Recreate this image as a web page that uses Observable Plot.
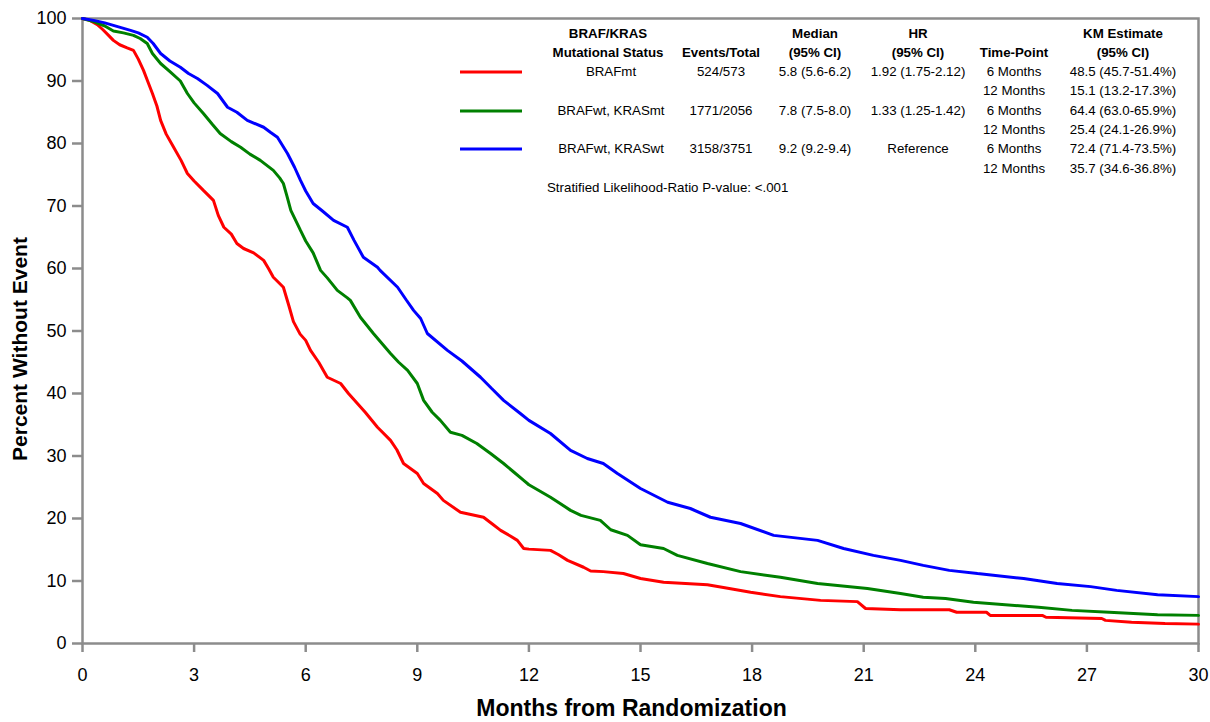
<!DOCTYPE html>
<html>
<head>
<meta charset="utf-8">
<script src="https://cdn.jsdelivr.net/npm/d3@7"></script>
<script src="https://cdn.jsdelivr.net/npm/@observablehq/plot@0.6"></script>
<style>
  html, body { margin: 0; padding: 0; background: #fff; }
  #wrap { position: relative; width: 1210px; height: 722px; font-family: "Liberation Sans", Arial, sans-serif; color: #000; }
  #wrap svg { position: absolute; left: 0; top: 0; }
  .cell { position: absolute; font-size: 13.3px; white-space: nowrap; transform: translate(-50%, -50%); line-height: 1; }
  .hdr { font-weight: bold; }
  .left { transform: translate(0, -50%); }
  .swatch { position: absolute; height: 3px; width: 62px; transform: translateY(-50%); }
</style>
</head>
<body>
<div id="wrap"></div>
<script>
// ---------- data ----------
const xTicks = [0, 3, 6, 9, 12, 15, 18, 21, 24, 27, 30];
const yTicks = [0, 10, 20, 30, 40, 50, 60, 70, 80, 90, 100];

const seriesNames = ["BRAFmt", "BRAFwt, KRASmt", "BRAFwt, KRASwt"];
const seriesColors = ["#ff0000", "#008000", "#0000ff"];

const redMonths = [0,0.2,0.4,0.55,0.7,0.83,1.0,1.2,1.37,1.5,1.64,1.75,1.88,2.0,2.1,2.25,2.45,2.65,2.82,3.0,3.25,3.52,3.65,3.8,4.0,4.15,4.33,4.6,4.87,5.0,5.13,5.4,5.55,5.67,5.85,6.0,6.13,6.35,6.58,6.94,7.15,7.39,7.6,7.93,8.28,8.45,8.63,9.0,9.17,9.54,9.7,10.16,10.78,11.0,11.24,11.5,11.69,11.86,12.0,12.58,12.8,13.04,13.47,13.66,14.0,14.54,15.0,15.62,16.8,17.23,17.96,18.76,19.84,20.83,21.05,21.99,23.3,23.5,24.3,24.4,25.8,25.9,27.4,27.5,28.2,29.1,30];
const redValues = [100,99.7,99,98.2,97.3,96.5,95.8,95.3,94.9,93.5,91.7,90,88,86,83.7,81.5,79.4,77.3,75.2,74,72.5,70.9,68.5,66.6,65.5,64,63.2,62.5,61.3,60,58.6,57,54,51.5,49.5,48.5,46.9,45,42.6,41.6,40,38.4,37,34.6,32.5,31,28.8,27.2,25.6,24,22.9,21,20.2,19.2,18.1,17.2,16.5,15.2,15.1,14.9,14.2,13.3,12.2,11.6,11.5,11.2,10.4,9.8,9.4,8.96,8.2,7.5,6.9,6.7,5.6,5.4,5.4,5.0,5.0,4.5,4.5,4.2,4.0,3.7,3.4,3.2,3.1];

const greenMonths = [0,0.3,0.6,0.83,1.1,1.37,1.55,1.74,1.88,2.1,2.35,2.63,2.82,3.0,3.25,3.5,3.7,4.0,4.25,4.5,4.78,5.13,5.3,5.4,5.5,5.6,5.86,6.0,6.2,6.4,6.58,6.85,7.12,7.2,7.47,7.82,8.28,8.5,8.74,9.0,9.17,9.4,9.62,9.89,10.2,10.6,10.97,11.32,11.6,11.86,12.0,12.58,13.12,13.4,13.92,14.2,14.65,15.0,15.62,15.99,16.8,17.69,18.76,19.76,21.1,21.99,22.6,23.2,23.95,25.7,26.6,27.6,28.9,30];
const greenValues = [100,99.5,98.8,98,97.7,97.3,96.8,96,94.4,92.8,91.5,90,88,86.5,84.8,83,81.6,80.3,79.4,78.3,77.3,75.7,74.5,73.6,71.5,69.3,66.1,64.4,62.5,59.7,58.5,56.5,55.3,54.9,52.2,49.6,46.4,45,43.7,41.6,38.9,37,35.7,33.8,33.3,32,30.4,28.8,27.4,26.1,25.4,23.4,21.3,20.5,19.7,18.2,17.3,15.8,15.2,14.1,12.8,11.5,10.6,9.6,8.8,8.0,7.4,7.2,6.6,5.8,5.3,5.0,4.6,4.5];

const blueMonths = [0,0.3,0.6,0.83,1.29,1.5,1.74,1.9,2.1,2.35,2.63,2.85,3.09,3.35,3.63,3.9,4.15,4.43,4.87,5.05,5.24,5.51,5.7,5.86,6.0,6.2,6.45,6.75,7.12,7.3,7.55,7.93,8.0,8.47,8.7,8.9,9.09,9.27,9.81,10.2,10.7,11.0,11.32,11.77,12.0,12.58,13.12,13.57,14.0,14.38,15.0,15.73,16.34,16.88,17.69,18.58,19.76,20.46,21.26,21.99,22.6,23.3,24.06,25.3,26.2,27.1,27.8,28.9,30];
const blueValues = [100,99.7,99.3,98.9,98.1,97.7,97,96,94.4,93.2,92.2,91.2,90.4,89.3,88,85.8,85,83.7,82.6,81.8,81,78.4,76.2,74.1,72.4,70.4,69.2,67.7,66.6,64.5,61.8,60.2,59.7,57,55,53.3,52,49.6,46.9,45.2,42.6,40.8,38.9,36.8,35.7,33.6,30.9,29.6,28.8,27.2,24.8,22.6,21.6,20.2,19.2,17.3,16.5,15.2,14.1,13.3,12.5,11.7,11.2,10.4,9.6,9.1,8.5,7.8,7.5];

// legend table texts
const headerLine1 = ["BRAF/KRAS", "", "Median", "HR", "", "KM Estimate"];
const headerLine2 = ["Mutational Status", "Events/Total", "(95% CI)", "(95% CI)", "Time-Point", "(95% CI)"];
const eventsTotal = ["524/573", "1771/2056", "3158/3751"];
const medians = ["5.8 (5.6-6.2)", "7.8 (7.5-8.0)", "9.2 (9.2-9.4)"];
const hazardRatios = ["1.92 (1.75-2.12)", "1.33 (1.25-1.42)", "Reference"];
const timePoints = ["6 Months", "12 Months"];
const kmEstimates = [
  ["48.5 (45.7-51.4%)", "15.1 (13.2-17.3%)"],
  ["64.4 (63.0-65.9%)", "25.4 (24.1-26.9%)"],
  ["72.4 (71.4-73.5%)", "35.7 (34.6-36.8%)"]
];
const pValueNote = "Stratified Likelihood-Ratio P-value: <.001";

// ---------- build tables ----------
const toRows = (ms, vs) => ms.map((m, i) => ({month: m, value: vs[i]}));
const curves = [toRows(redMonths, redValues), toRows(greenMonths, greenValues), toRows(blueMonths, blueValues)];

const axisGray = "#8c8c8c";

const chart = Plot.plot({
  width: 1210,
  height: 722,
  marginLeft: 82,
  marginRight: 12,
  marginTop: 18,
  marginBottom: 79,
  style: {fontFamily: '"Liberation Sans", Arial, sans-serif', color: "#000", background: "#fff"},
  x: {domain: [0, 30], label: null},
  y: {domain: [0, 100], label: null},
  marks: [
    Plot.axisX({ticks: xTicks, tickSize: 9, tickPadding: 16, stroke: axisGray, strokeWidth: 2.5, fontSize: 18, label: null}),
    Plot.axisY({ticks: yTicks, tickSize: 10, tickPadding: 6, stroke: axisGray, strokeWidth: 2.5, fontSize: 18, label: null}),
    Plot.frame({stroke: axisGray, strokeWidth: 2.5}),
    ...curves.map((rows, i) => Plot.line(rows, {x: "month", y: "value", stroke: seriesColors[i], strokeWidth: 3, strokeLinejoin: "miter"})),
    Plot.text(["Months from Randomization"], {text: d => d, frameAnchor: "bottom", dy: 72, dx: -9, fontSize: 23, fontWeight: "bold", fill: "#000"}),
    Plot.text(["Percent Without Event"], {text: d => d, frameAnchor: "left", textAnchor: "middle", dx: -62, dy: 18, rotate: -90, fontSize: 21, fontWeight: "bold", fill: "#000"})
  ]
});

const wrap = document.getElementById("wrap");
wrap.appendChild(chart);

// ---------- overlay legend table ----------
const colX = [608, 721, 815, 918, 1014, 1123];
const rowY0 = 72, rowStep = 19.3;
function addCell(text, x, y, cls) {
  const d = document.createElement("div");
  d.className = "cell " + (cls || "");
  d.textContent = text;
  d.style.left = x + "px";
  d.style.top = y + "px";
  wrap.appendChild(d);
}
headerLine1.forEach((t, i) => { if (t) addCell(t, colX[i], 34, "hdr"); });
headerLine2.forEach((t, i) => { if (t) addCell(t, colX[i], 53, "hdr"); });
seriesNames.forEach((name, i) => {
  const y = rowY0 + i * 2 * rowStep;
  const sw = document.createElement("div");
  sw.className = "swatch";
  sw.style.left = "460px";
  sw.style.top = y + "px";
  sw.style.background = seriesColors[i];
  wrap.appendChild(sw);
  addCell(name, colX[0] + 3, y);
  addCell(eventsTotal[i], colX[1], y);
  addCell(medians[i], colX[2], y);
  addCell(hazardRatios[i], colX[3], y);
  timePoints.forEach((tp, j) => {
    addCell(tp, colX[4], y + j * rowStep);
    addCell(kmEstimates[i][j], colX[5], y + j * rowStep);
  });
});
addCell(pValueNote, 547, rowY0 + 6 * rowStep, "left");
</script>
</body>
</html>
